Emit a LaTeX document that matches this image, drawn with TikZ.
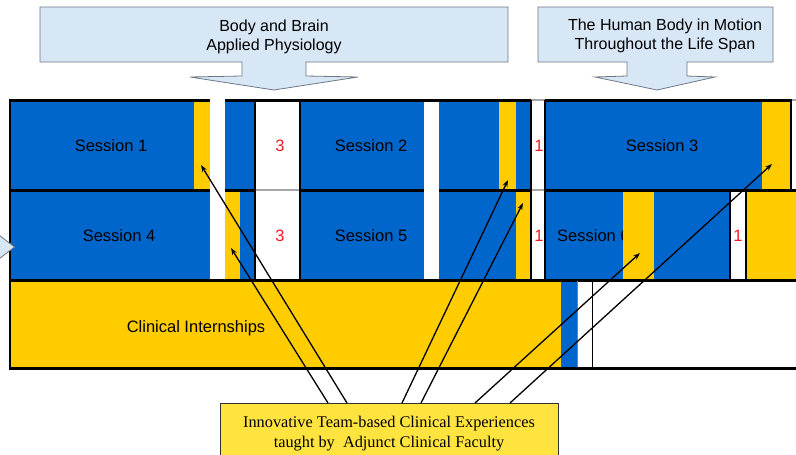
\documentclass[tikz,border=0pt]{standalone}
\usepackage{fontspec}
\setmainfont{Liberation Sans}
\newfontfamily\timesf{Liberation Serif}
\usetikzlibrary{arrows.meta}
\definecolor{cblue}{RGB}{0,102,204}
\definecolor{cyel}{RGB}{255,204,0}
\definecolor{lyel}{RGB}{255,228,64}
\definecolor{callfill}{RGB}{216,231,246}
\definecolor{callline}{RGB}{110,120,130}
\definecolor{cred}{RGB}{236,28,36}
\tikzset{
  hline/.style={line width=3pt, black},
  vline/.style={line width=2pt, black},
  gline/.style={line width=1.5pt, gray!70},
  sess/.style={font=\fontsize{16.5}{19}\selectfont, inner sep=0pt},
  num/.style={font=\fontsize{16.5}{19}\selectfont, text=cred, inner sep=0pt},
  callout/.style={fill=callfill, draw=callline, line width=0.8pt},
  ctext/.style={font=\fontsize{16}{19.5}\selectfont, align=center, inner sep=0pt},
  conn/.style={line width=1.3pt, -{Stealth[length=7pt,width=5pt]}},
}
\begin{document}
\begin{tikzpicture}[x=1pt,y=-1pt]
\useasboundingbox (0,0) rectangle (796,455);
\clip (0,0) rectangle (796,455);
% row 1 fills
\fill[cblue] (10,100) rectangle (194,190);
\fill[cyel] (194,100) rectangle (210,190);
\fill[cblue] (225,100) rectangle (255,190);
\fill[cblue] (300,100) rectangle (424,190);
\fill[cblue] (439,100) rectangle (499,190);
\fill[cyel] (499,100) rectangle (516,190);
\fill[cblue] (516,100) rectangle (531,190);
\fill[cblue] (545,100) rectangle (762,190);
\fill[cyel] (762,100) rectangle (791,190);
% row 2 fills
\fill[cblue] (10,190) rectangle (210,280);
\fill[cyel] (225,190) rectangle (240,280);
\fill[cblue] (240,190) rectangle (255,280);
\fill[cblue] (300,190) rectangle (424,280);
\fill[cblue] (439,190) rectangle (516,280);
\fill[cyel] (516,190) rectangle (531,280);
\fill[cblue] (545,190) rectangle (730,280);
\fill[cyel] (746,190) rectangle (796,280);
% row 3 fills
\fill[cyel] (10,280) rectangle (561,368);
\fill[cblue] (561,280) rectangle (577,368);
% texts
\node[sess] (s1) at (111,145.5) {Session 1};
\node[sess] (s2) at (371,145.5) {Session 2};
\node[sess] (s3) at (662,145.5) {Session 3};
\node[sess] (s4) at (119,235.5) {Session 4};
\node[sess] (s5) at (371,235.5) {Session 5};
\node[sess, anchor=west] (s6) at (557,235.5) {Session 6};
\fill[cyel] (623,190) rectangle (654,280);
\node[num] (n1) at (280,145.5) {3};
\node[num] (n2) at (280,235.5) {3};
\node[num] (n3) at (539,145.5) {1};
\node[num] (n4) at (539,235.5) {1};
\node[num] (n5) at (738,235.5) {1};
\node[sess] (ci) at (196,328) {Clinical Internships};
% grid lines
\draw[gline] (531,100) -- (545,100);
\draw[gline] (791,100) -- (796,100);
\draw[gline] (255,190) -- (300,190);
\draw[gline] (531,190) -- (545,190);
\draw[hline] (10,100) -- (210,100);
\draw[hline] (225,100) -- (531,100);
\draw[hline] (545,100) -- (792,100);
\draw[hline] (9,190) -- (210,190);
\draw[hline] (225,190) -- (255,190);
\draw[hline] (300,190) -- (424,190);
\draw[hline] (439,190) -- (531,190);
\draw[hline] (545,190) -- (796,190);
\draw[hline] (9,280) -- (796,280);
\draw[hline] (9,368) -- (796,368);
\draw[vline] (10,99) -- (10,369);
\draw[vline] (255,100) -- (255,280);
\draw[vline] (300,100) -- (300,280);
\draw[vline] (531,100) -- (531,280);
\draw[vline] (545,100) -- (545,280);
\draw[vline] (791,100) -- (791,190);
\draw[vline] (730,190) -- (730,280);
\draw[vline] (746,190) -- (746,280);
\draw[line width=1pt, gray] (577.5,281) -- (577.5,367);
\draw[line width=1pt, black] (592,281) -- (592,367);
% callouts
\draw[callout] (40,7) -- (508,7) -- (508,62) -- (306,62) -- (306,76) -- (358,77) -- (274,90) -- (190,77) -- (242,76) -- (242,62) -- (40,62) -- cycle;
\node[ctext] (c1) at (274,37) {Body and Brain\\Applied Physiology};
\draw[callout] (538,7) -- (773,7) -- (773,62) -- (687,62) -- (687,76) -- (715,77) -- (657,90) -- (595,77) -- (627,76) -- (627,62) -- (538,62) -- cycle;
\node[ctext] (c2) at (665,36) {The Human Body in Motion\\Throughout the Life Span};
\draw[callout] (-5,232) -- (14.5,247) -- (-5,262);
% bottom box
\draw[fill=lyel, draw=black!80, line width=0.8pt] (220,403) rectangle (558,470);
\node[font=\timesf\fontsize{16.3}{20}\selectfont, align=center, inner sep=0pt] (box) at (389,434) {Innovative Team-based Clinical Experiences\\taught by\ \ Adjunct Clinical Faculty};
% connector ends
\coordinate (b1) at (328,403);
\coordinate (b2) at (347,403);
\coordinate (b3) at (402,403);
\coordinate (b4) at (421,403);
\coordinate (b5) at (475,403);
\coordinate (b6) at (510,403);
\coordinate (t1) at (231,248);
\coordinate (t2) at (201,165);
\coordinate (t3) at (508,180);
\coordinate (t4) at (523,203);
\coordinate (t5) at (640,253);
\coordinate (t6) at (772,164);
\draw[conn] (b1) -- (t1);
\draw[conn] (b2) -- (t2);
\draw[conn] (b3) -- (t3);
\draw[conn] (b4) -- (t4);
\draw[conn] (b5) -- (t5);
\draw[conn] (b6) -- (t6);
\end{tikzpicture}
\end{document}
